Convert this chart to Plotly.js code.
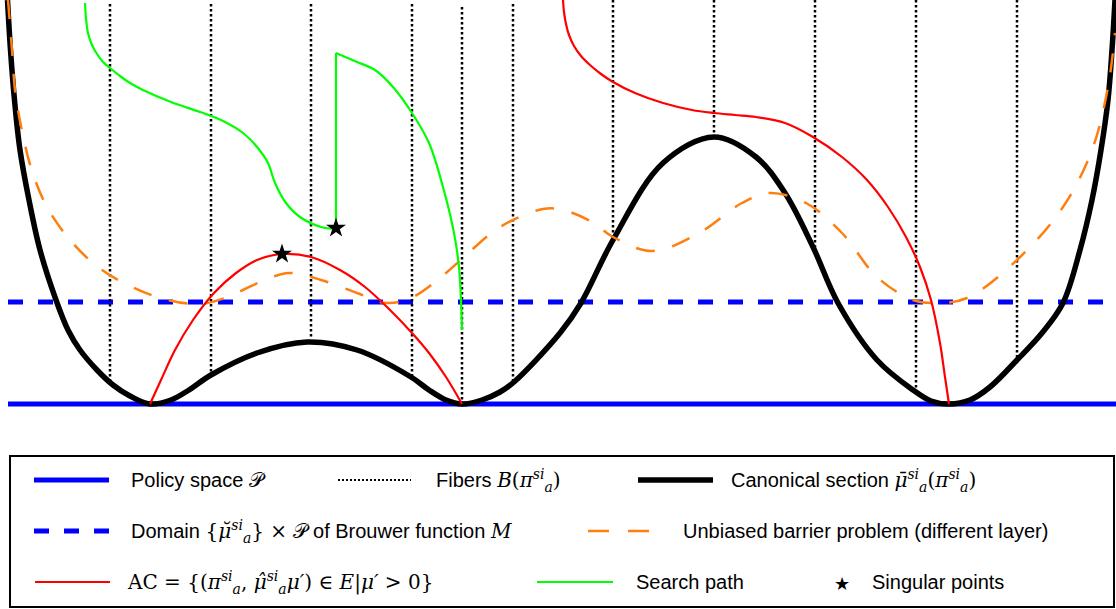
<!DOCTYPE html>
<html>
<head>
<meta charset="utf-8">
<script src="https://cdn.plot.ly/plotly-3.0.1.min.js"></script>
<style>html,body{margin:0;padding:0;background:#fff;}#chart{width:1116px;height:609px;}</style>
</head>
<body>
<div id="chart"></div>
<script>
// ---- data (x: horizontal position, y: height above the policy space) ----
const policyX = [8, 1116];
const policyY = [0, 0];
const domainX = [8, 1116];
const domainY = [102, 102];

const fiberX      = [110, 211, 311, 412, 462, 513, 613, 714, 815, 916, 1017];
const fiberTop    = [400, 400, 400, 400, 397, 400, 404, 404, 404, 404, 404];
const fiberBottom = [19, 31, 67, 24, 0, 21, 164, 267, 156, 14, 46];

const canonX = [7.5, 10.5, 14.5, 20, 29, 40, 56, 68, 80, 97, 113, 130, 150, 171, 189, 211, 257, 307, 357, 411, 429, 446, 462, 482, 500, 514, 560, 581, 613, 663, 714, 756, 785, 813, 838, 877, 913, 931, 949, 970, 990, 1017, 1042, 1063, 1080, 1092, 1101, 1108, 1112, 1115];
const canonY = [404, 354, 304, 254, 204, 154, 104, 74, 54, 34, 19, 8, 0, 4, 14, 29, 51, 62, 54, 27, 14, 4, 0, 4, 12, 22, 71, 101, 164, 241, 267, 247, 211, 157, 101, 44, 14, 3, 0, 4, 17, 44, 71, 101, 154, 204, 254, 304, 354, 404];

const barrierX = [8, 12, 15, 22, 32, 47, 70, 98, 132, 168, 200, 225, 243, 265, 289, 321, 357, 386, 411, 446, 464, 500, 543, 563, 592, 613, 652, 699, 742, 770, 806, 842, 877, 913, 938, 967, 1017, 1063, 1092, 1108, 1115];
const barrierY = [404, 354, 314, 273, 233, 197, 164, 137, 117, 104, 100, 106, 114, 124, 131, 124, 111, 101, 106, 131, 147, 177, 195, 194, 182, 167, 153, 171, 201, 211, 201, 171, 127, 104, 101, 106, 144, 197, 254, 317, 371];

const acLeftX = [150, 161, 175, 193, 214, 236, 257, 282, 311, 340, 365, 390, 412, 429, 446, 462];
const acLeftY = [0, 24, 54, 84, 111, 131, 144, 150, 147, 134, 117, 94, 71, 51, 27, 0];
const acRightX = [563, 564, 566, 569, 574, 581, 590, 601, 613, 635, 663, 692, 714, 735, 756, 785, 813, 842, 867, 888, 906, 920, 931, 940, 945, 949];
const acRightY = [404, 392, 380, 369, 358, 348, 339, 330, 322, 311, 301, 294, 291, 289, 287, 281, 267, 247, 224, 197, 167, 137, 104, 61, 27, 0];

const searchX1 = [85, 86, 88, 92, 97, 103, 110, 120, 130, 143, 171, 200, 221, 243, 257, 268, 275, 286, 300, 321, 336];
const searchY1 = [401, 386, 371, 359, 350, 342, 336, 328, 321, 314, 302, 292, 284, 271, 257, 241, 221, 201, 187, 177, 175];
const searchX2 = [336, 336];
const searchY2 = [175, 351];
const searchX3 = [336, 357, 375, 393, 412, 429, 443, 454, 459, 461, 462];
const searchY3 = [351, 342, 334, 317, 291, 261, 217, 171, 137, 104, 74];

const singularX = [282, 336];
const singularY = [150, 176];

const M = 'font-family:DejaVu Serif';
const legendLabels = [
  'Policy space <span style="' + M + '">𝒫</span>',
  'Fibers <span style="' + M + '"><i>B</i>(<i>π</i><sup><i>si</i></sup><sub><i>a</i></sub>)</span>',
  'Canonical section <span style="' + M + '"><i>μ̄</i><sup><i>si</i></sup><sub><i>a</i></sub>(<i>π</i><sup><i>si</i></sup><sub><i>a</i></sub>)</span>',
  'Domain <span style="' + M + '">{<i>μ̆</i><sup><i>si</i></sup><sub><i>a</i></sub>} × 𝒫</span> of Brouwer function <span style="' + M + '"><i>M</i></span>',
  'Unbiased barrier problem (different layer)',
  '<span style="' + M + '">AC = {(<i>π</i><sup><i>si</i></sup><sub><i>a</i></sub>, <i>μ̂</i><sup><i>si</i></sup><sub><i>a</i></sub><i>μ′</i>) ∈ <i>E</i>|<i>μ′</i> &gt; 0}</span>',
  'Search path',
  'Singular points'
];

// ---- build traces ----
const fx = [], fy = [];
fiberX.forEach((x, i) => { fx.push(x, x, null); fy.push(fiberTop[i], fiberBottom[i], null); });

const traces = [
  {x: policyX, y: policyY, mode: 'lines', line: {color: '#0000ff', width: 5}},
  {x: domainX, y: domainY, mode: 'lines', line: {color: '#0000ff', width: 5, dash: '15px,15px'}},
  {x: fx, y: fy, mode: 'lines', line: {color: '#000000', width: 2.5, dash: '2.5px,2.5px'}, connectgaps: false},
  {x: canonX, y: canonY, mode: 'lines', line: {color: '#000000', width: 5.5, shape: 'spline', smoothing: 1}},
  {x: barrierX, y: barrierY, mode: 'lines', line: {color: '#ff7f0e', width: 2.5, dash: '19px,18px', shape: 'spline', smoothing: 1}},
  {x: acLeftX, y: acLeftY, mode: 'lines', line: {color: '#ff0000', width: 2.2, shape: 'spline', smoothing: 1}},
  {x: acRightX, y: acRightY, mode: 'lines', line: {color: '#ff0000', width: 2.2, shape: 'spline', smoothing: 1}},
  {x: searchX1, y: searchY1, mode: 'lines', line: {color: '#00ff00', width: 2.2, shape: 'spline', smoothing: 1}},
  {x: searchX2, y: searchY2, mode: 'lines', line: {color: '#00ff00', width: 2.2}},
  {x: searchX3, y: searchY3, mode: 'lines', line: {color: '#00ff00', width: 2.2, shape: 'spline', smoothing: 1}},
  {x: singularX, y: singularY, mode: 'markers', marker: {symbol: 'star', size: 15, color: '#000000'}}
];
traces.forEach(t => { t.hoverinfo = 'skip'; t.showlegend = false; });

// ---- legend (paper coords from pixel positions) ----
const W = 1116, H = 609;
const px = v => v / W, py = v => (H - v) / H;
const rows = [480, 531, 582];
const shapes = [
  {type: 'rect', xref: 'paper', yref: 'paper', x0: px(10), x1: px(1114), y0: py(607), y1: py(456), line: {color: '#000', width: 2}, fillcolor: 'rgba(0,0,0,0)'},
  {type: 'line', xref: 'paper', yref: 'paper', x0: px(34), x1: px(109), y0: py(rows[0]), y1: py(rows[0]), line: {color: '#0000ff', width: 5}},
  {type: 'line', xref: 'paper', yref: 'paper', x0: px(338), x1: px(411), y0: py(rows[0]), y1: py(rows[0]), line: {color: '#000', width: 2, dash: '2px,2px'}},
  {type: 'line', xref: 'paper', yref: 'paper', x0: px(638), x1: px(713), y0: py(rows[0]), y1: py(rows[0]), line: {color: '#000', width: 5.5}},
  {type: 'line', xref: 'paper', yref: 'paper', x0: px(34), x1: px(109), y0: py(rows[1]), y1: py(rows[1]), line: {color: '#0000ff', width: 5, dash: '15px,15px'}},
  {type: 'line', xref: 'paper', yref: 'paper', x0: px(588), x1: px(649), y0: py(rows[1]), y1: py(rows[1]), line: {color: '#ff7f0e', width: 2.5, dash: '21px,19px'}},
  {type: 'line', xref: 'paper', yref: 'paper', x0: px(35), x1: px(110), y0: py(rows[2]), y1: py(rows[2]), line: {color: '#ff0000', width: 2.2}},
  {type: 'line', xref: 'paper', yref: 'paper', x0: px(537), x1: px(613), y0: py(rows[2]), y1: py(rows[2]), line: {color: '#00ff00', width: 2.2}}
];
const labelPos = [[129, 0], [434, 0], [729, 0], [129, 1], [681, 1], [125, 2], [634, 2], [870, 2]];
const annotations = labelPos.map((p, i) => ({
  xref: 'paper', yref: 'paper', x: px(p[0]), y: py(rows[p[1]]), xanchor: 'left', yanchor: 'middle',
  text: legendLabels[i], showarrow: false, font: {family: 'Liberation Sans, Arial, sans-serif', size: 20, color: '#000'}
}));
annotations.push({xref: 'paper', yref: 'paper', x: px(842), y: py(rows[2] + 1), xanchor: 'center', yanchor: 'middle',
  text: '★', showarrow: false, font: {family: 'DejaVu Sans', size: 18, color: '#000'}});

const layout = {
  width: W, height: H,
  margin: {l: 0, r: 0, t: 0, b: 0, pad: 0},
  paper_bgcolor: '#fff', plot_bgcolor: '#fff',
  showlegend: false,
  xaxis: {range: [0, 1116], visible: false, fixedrange: true},
  yaxis: {range: [-205, 404], visible: false, fixedrange: true},
  shapes: shapes,
  annotations: annotations
};
Plotly.newPlot('chart', traces, layout, {staticPlot: true, displayModeBar: false});
</script>
</body>
</html>
